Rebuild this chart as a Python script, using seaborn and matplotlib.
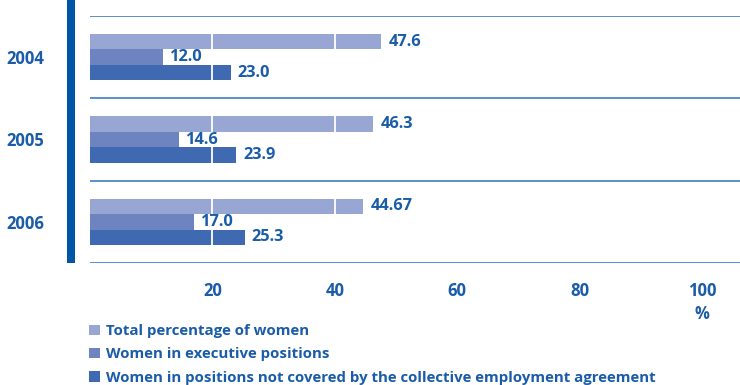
import matplotlib
matplotlib.use("Agg")
import matplotlib.pyplot as plt
from matplotlib.patches import Rectangle
import seaborn as sns
import pandas as pd

# Data
years = ["2004", "2005", "2006"]
series = [
    "Total percentage of women",
    "Women in executive positions",
    "Women in positions not covered by the collective employment agreement",
]
total_women = [47.6, 46.3, 44.67]
executive_women = [12.0, 14.6, 17.0]
not_covered_women = [23.0, 23.9, 25.3]
x_ticks = [20, 40, 60, 80, 100]

colors = ["#97a6d2", "#6d84c0", "#3f69b0"]
text_blue = "#1a5ca8"
rule_blue = "#4c88c8"
bar_blue = "#0055a6"

rows = []
for s, vals in zip(series, [total_women, executive_women, not_covered_women]):
    for y, v in zip(years, vals):
        rows.append({"year": y, "series": s, "value": v})
df = pd.DataFrame(rows)

sns.set_style("white")
plt.rcParams["font.family"] = ["Open Sans", "DejaVu Sans"]
plt.rcParams["font.weight"] = "bold"

fig = plt.figure(figsize=(7.4, 3.85), dpi=100)
ax = fig.add_axes([90 / 740, 1 - 263 / 385, 1 - 90 / 740, 247 / 385])

sns.barplot(
    data=df, x="value", y="year", hue="series", hue_order=series,
    order=years, orient="h", palette=colors, width=0.565,
    saturation=1, linewidth=0, ax=ax,
)

ax.set_xlim(0, 106.2)
ax.set_ylim(2.5, -0.5)
ax.set_xticks(x_ticks)
ax.grid(False)

# white grid lines drawn only across the bars they cut through
for p in ax.patches:
    w = p.get_width()
    y0 = p.get_y()
    h = p.get_height()
    for gx in x_ticks:
        if gx < w:
            ax.vlines(gx, y0, y0 + h, color="white", linewidth=1.3, zorder=3)

# horizontal separators between the year groups
for yv in [-0.5, 0.5, 1.5, 2.5]:
    ax.axhline(yv, color=rule_blue, linewidth=1.3, zorder=4)

for sp in ax.spines.values():
    sp.set_visible(False)

ax.set_xlabel("")
ax.set_ylabel("")
ax.tick_params(axis="x", length=0, pad=14, labelsize=12, labelcolor=text_blue)
ax.tick_params(axis="y", length=0, pad=33, labelsize=12, labelcolor=text_blue)
for lab in ax.get_xticklabels() + ax.get_yticklabels():
    lab.set_fontweight("bold")


def fmt(v):
    return f"{v:.2f}" if round(v, 1) != v else f"{v:.1f}"


for cont, vals in zip(ax.containers, [total_women, executive_women, not_covered_women]):
    ax.bar_label(cont, labels=[fmt(v) for v in vals], padding=5,
                 color=text_blue, fontsize=11.8, fontweight="bold")

fig.text(702 / 740, 1 - 314 / 385, "%", ha="center", va="center",
         color=text_blue, fontsize=12, fontweight="bold")

# thick vertical accent bar left of the plot
fig.patches.append(Rectangle((67 / 740, 1 - 263 / 385), 8 / 740, 263 / 385,
                             transform=fig.transFigure, facecolor=bar_blue,
                             edgecolor="none", zorder=0))

handles, labels = ax.get_legend_handles_labels()
ax.legend_.remove()
fig.legend(handles, labels, loc="upper left",
           bbox_to_anchor=(89 / 740, 1 - 324 / 385),
           frameon=False, prop={"weight": "bold", "size": 10.8},
           labelcolor=text_blue, handlelength=0.7, handleheight=0.7,
           handletextpad=0.4, labelspacing=0.62, borderpad=0, borderaxespad=0)

fig.savefig("out.png", dpi=100)
